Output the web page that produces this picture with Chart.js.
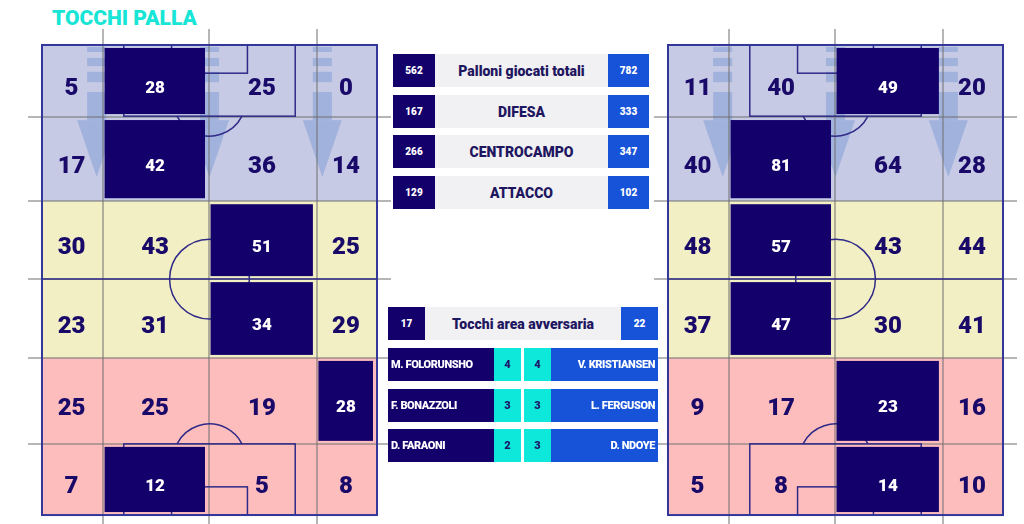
<!DOCTYPE html>
<html lang="it">
<head>
<meta charset="UTF-8">
<title>Tocchi palla</title>
<script src="https://cdn.jsdelivr.net/npm/chart.js"></script>
<style>
  body {
    margin: 0;
    width: 1024px;
    height: 524px;
    background: #ffffff;
    font-family: Roboto, 'Open Sans', sans-serif;
    position: relative;
    overflow: hidden;
  }
  h1 {
    position: absolute;
    left: 52px;
    top: 4px;
    margin: 0;
    font-size: 21px;
    line-height: 28px;
    font-weight: 900;
    color: #17e5d5;
  }
  canvas.pitch { position: absolute; top: 29px; }
  #homePitch { left: 28px; }
  #awayPitch { left: 654px; }
  .row { position: absolute; height: 33px; display: flex; }
  .row div {
    height: 33px;
    display: flex;
    align-items: center;
    justify-content: center;
    font-weight: 900;
    white-space: nowrap;
  }
  .num { color: #fff; font-size: 10px; }
  .home { background: #14006b; }
  .away { background: #1753d8; }
  .label { background: #f1f1f3; color: #1f1660; font-size: 14px; }
  .cyan { background: #0de8da; color: #1c1466; font-size: 11px; }
  .gap { background: #fff; }
  .name { color: #fff; font-size: 11px; letter-spacing: -0.4px; }
  .name.home { justify-content: flex-start !important; padding-left: 3px; box-sizing: border-box; }
  .name.away { justify-content: flex-end !important; padding-right: 3px; box-sizing: border-box; }
</style>
</head>
<body>
  <h1>TOCCHI PALLA</h1>
  <canvas id="homePitch" class="pitch" width="363" height="495"></canvas>
  <canvas id="awayPitch" class="pitch" width="363" height="495"></canvas>
  <div id="panel"></div>

  <script>
    // touches per zone, 6 rows (top to bottom) x 4 columns
    const homeTouches = [
      [5, 28, 25, 0],
      [17, 42, 36, 14],
      [30, 43, 51, 25],
      [23, 31, 34, 29],
      [25, 25, 19, 28],
      [7, 12, 5, 8]
    ];
    const awayTouches = [
      [11, 40, 49, 20],
      [40, 81, 64, 28],
      [48, 57, 43, 44],
      [37, 47, 30, 41],
      [9, 17, 23, 16],
      [5, 8, 14, 10]
    ];

    const summaryLabels = ['Palloni giocati totali', 'DIFESA', 'CENTROCAMPO', 'ATTACCO'];
    const homeSummary = [562, 167, 266, 129];
    const awaySummary = [782, 333, 347, 102];

    const areaLabel = 'Tocchi area avversaria';
    const homeArea = 17;
    const awayArea = 22;

    const homePlayers = ['M. FOLORUNSHO', 'F. BONAZZOLI', 'D. FARAONI'];
    const homePlayerTouches = [4, 3, 2];
    const awayPlayers = ['V. KRISTIANSEN', 'L. FERGUSON', 'D. NDOYE'];
    const awayPlayerTouches = [4, 3, 3];

    // zone grid in pitch metres (68 x 105)
    const colEdges = [0, 12.4, 33.9, 55.8, 68];
    const rowEdges = [0, 16.1, 34.9, 52.3, 69.9, 89.1, 105];

    const zoneColors = ['#c6cae4', '#f3efc4', '#fdbdbd'];
    const arrowX = [11.1, 34, 56.9];

    const pitchPlugin = {
      id: 'pitch',
      beforeDraw(chart) {
        const { ctx, scales: { x, y } } = chart;
        const px = v => x.getPixelForValue(v);
        const py = v => y.getPixelForValue(v);
        ctx.save();
        for (let r = 0; r < rowEdges.length - 1; r++) {
          ctx.fillStyle = zoneColors[Math.floor(r / 2)];
          ctx.fillRect(px(0), py(rowEdges[r]), px(68) - px(0), py(rowEdges[r + 1]) - py(rowEdges[r]));
        }
        // direction arrows in the defensive third
        ctx.fillStyle = 'rgba(124,154,214,0.5)';
        arrowX.forEach(ax => {
          const l = px(ax - 1.93), w = px(ax + 1.93) - l;
          [[0.45, 1.56], [2.9, 4.7], [6.0, 8.3], [10.5, 16.8]].forEach(([a, b]) => {
            ctx.fillRect(l, py(a), w, py(b) - py(a));
          });
          ctx.beginPath();
          ctx.moveTo(px(ax - 3.95), py(16.8));
          ctx.lineTo(px(ax + 3.95), py(16.8));
          ctx.lineTo(px(ax), py(29.5));
          ctx.closePath();
          ctx.fill();
        });
        ctx.restore();
      },
      afterDatasetsDraw(chart) {
        const { ctx, scales: { x, y } } = chart;
        const px = v => x.getPixelForValue(v);
        const py = v => y.getPixelForValue(v);
        const box = (x0, y0, x1, y1) => ctx.strokeRect(px(x0), py(y0), px(x1) - px(x0), py(y1) - py(y0));
        ctx.save();
        // pitch markings
        ctx.strokeStyle = '#2f2a88';
        ctx.lineWidth = 1.5;
        ctx.beginPath();
        ctx.moveTo(px(0), py(rowEdges[3]));
        ctx.lineTo(px(68), py(rowEdges[3]));
        ctx.stroke();
        const rc = px(34 + 8.1) - px(34);
        ctx.beginPath();
        ctx.arc(px(34), py(rowEdges[3]), rc, 0, Math.PI * 2);
        ctx.stroke();
        box(34 - 17.4, 0, 34 + 17.4, 15.9);
        box(34 - 7.7, 0, 34 + 7.7, 6.3);
        box(34 - 17.4, 105 - 15.9, 34 + 17.4, 105);
        box(34 - 7.7, 105 - 6.3, 34 + 7.7, 105);
        const ra = px(34 + 7.4) - px(34);
        const dy = py(15.9) - py(12.2);
        const a0 = Math.asin(Math.min(1, dy / ra));
        ctx.beginPath();
        ctx.arc(px(34), py(12.2), ra, a0, Math.PI - a0);
        ctx.stroke();
        ctx.beginPath();
        ctx.arc(px(34), py(105 - 12.2), ra, Math.PI + a0, Math.PI * 2 - a0);
        ctx.stroke();
        ctx.strokeStyle = '#33379a';
        ctx.lineWidth = 2;
        box(0, 0, 68, 105);

        // zone cells and values
        chart.data.datasets[0].data.forEach(p => {
          const x0 = px(colEdges[p.c]), x1 = px(colEdges[p.c + 1]);
          const y0 = py(rowEdges[p.r]), y1 = py(rowEdges[p.r + 1]);
          if (p.top) {
            ctx.fillStyle = '#14006b';
            ctx.fillRect(x0 + 1.5, y0 + 3, x1 - x0 - 5.5, y1 - y0 - 6);
          }
          const size = p.top ? 17 : 24;
          ctx.fillStyle = p.top ? '#ffffff' : '#190a69';
          ctx.font = '900 ' + size + 'px Roboto';
          ctx.textAlign = 'center';
          ctx.textBaseline = 'alphabetic';
          ctx.fillText(String(p.v), (x0 + x1) / 2 - 1, (y0 + y1) / 2 + 5.5 + size * 0.711 / 2);
        });
        ctx.restore();
      }
    };

    function hiddenAxis(edges, min, max, reverse) {
      return {
        type: 'linear',
        min: min,
        max: max,
        reverse: reverse,
        ticks: { display: false },
        border: { display: false },
        grid: { color: 'rgba(110,110,110,0.5)', lineWidth: 2, drawTicks: false },
        afterBuildTicks: scale => {
          scale.ticks = edges.slice(1, -1).map(v => ({ value: v }));
        }
      };
    }

    function makePitch(id, touches) {
      const points = [];
      touches.forEach((row, r) => {
        const best = Math.max(...row);
        row.forEach((v, c) => {
          points.push({
            x: (colEdges[c] + colEdges[c + 1]) / 2,
            y: (rowEdges[r] + rowEdges[r + 1]) / 2,
            v: v, r: r, c: c, top: v === best
          });
        });
      });
      return new Chart(document.getElementById(id), {
        type: 'scatter',
        data: { datasets: [{ data: points, pointRadius: 0, pointHoverRadius: 0 }] },
        options: {
          responsive: false,
          animation: false,
          events: [],
          layout: { padding: 0, autoPadding: false },
          plugins: { legend: { display: false }, tooltip: { enabled: false } },
          scales: {
            x: hiddenAxis(colEdges, -2.84, 70.84, false),
            y: hiddenAxis(rowEdges, -3.57, 107.0, true)
          }
        },
        plugins: [pitchPlugin]
      });
    }

    makePitch('homePitch', homeTouches);
    makePitch('awayPitch', awayTouches);

    // comparison panel
    const panel = document.getElementById('panel');
    function addRow(left, top, cells) {
      const row = document.createElement('div');
      row.className = 'row';
      row.style.left = left + 'px';
      row.style.top = top + 'px';
      cells.forEach(([w, cls, text]) => {
        const d = document.createElement('div');
        d.className = cls;
        d.style.width = w + 'px';
        d.textContent = text;
        row.appendChild(d);
      });
      panel.appendChild(row);
    }

    summaryLabels.forEach((label, i) => {
      addRow(393, Math.round(54 + i * 40.7), [
        [42, 'num home', homeSummary[i]],
        [173, 'label', label],
        [41, 'num away', awaySummary[i]]
      ]);
    });

    addRow(388, 307, [
      [37, 'num home', homeArea],
      [196, 'label', areaLabel],
      [37, 'num away', awayArea]
    ]);

    homePlayers.forEach((name, i) => {
      addRow(388, Math.round(348 + i * 40.5), [
        [106, 'name home', name],
        [27, 'cyan', homePlayerTouches[i]],
        [3, 'gap', ''],
        [27, 'cyan', awayPlayerTouches[i]],
        [107, 'name away', awayPlayers[i]]
      ]);
    });
  </script>
</body>
</html>
